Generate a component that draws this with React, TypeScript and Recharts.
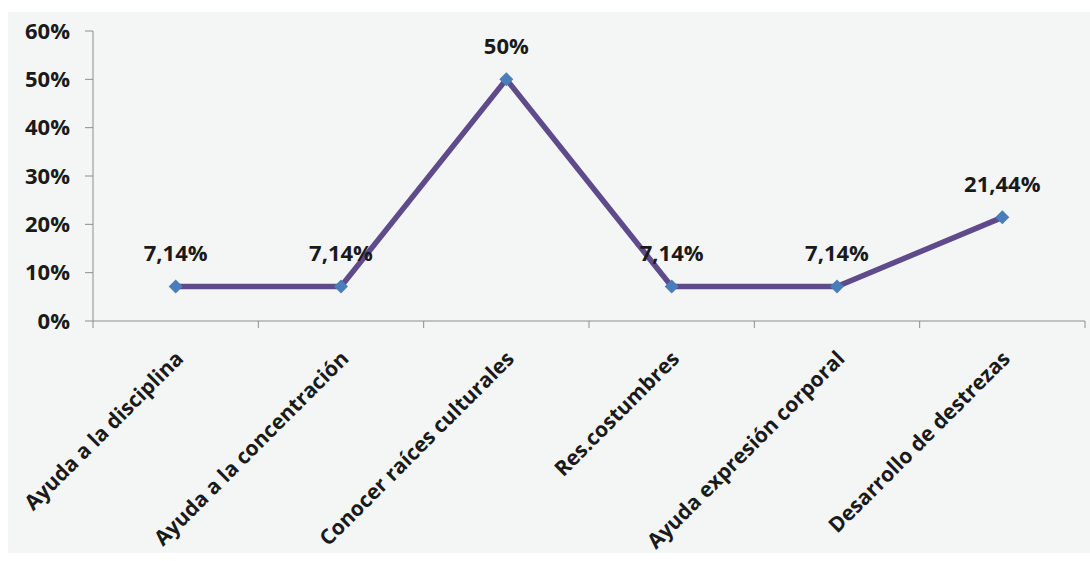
import { LineChart, Line, XAxis, YAxis, LabelList } from "recharts";

const categories = [
  "Ayuda a la disciplina",
  "Ayuda a la concentración",
  "Conocer raíces culturales",
  "Res.costumbres",
  "Ayuda expresión corporal",
  "Desarrollo de destrezas",
];
const values = [7.14, 7.14, 50, 7.14, 7.14, 21.44];
const yTicks = [0, 10, 20, 30, 40, 50, 60];

const data = categories.map((name, i) => ({ pos: i + 0.5, name, value: values[i] }));
// integer ticks = category boundaries (tick marks), half ticks = category labels
const xTicks = [0, ...categories.flatMap((_, i) => [i + 0.5, i + 1])];

const FONT = "'Open Sans', 'Liberation Sans', sans-serif";
const AXIS = "#8c8c8c";
const TEXT = "#1a1a1a";

const fmt = (v: number) => `${String(v).replace(".", ",")}%`;

const XTick = ({ x, y, payload }: any) => {
  const v = payload.value;
  if (Number.isInteger(v)) {
    return <line x1={x} y1={y} x2={x} y2={y + 7} stroke={AXIS} strokeWidth={1} />;
  }
  const label = categories[Math.floor(v)];
  const ax = x + 9;
  const ay = y + 39;
  return (
    <text
      x={ax}
      y={ay}
      transform={`rotate(-45, ${ax}, ${ay})`}
      textAnchor="end"
      fontFamily={FONT}
      fontWeight="bold"
      fontSize={21}
      fill={TEXT}
    >
      {label}
    </text>
  );
};

const Diamond = ({ cx, cy, index }: any) => (
  <polygon
    key={`d-${index}`}
    points={`${cx},${cy - 7} ${cx + 7},${cy} ${cx},${cy + 7} ${cx - 7},${cy}`}
    fill="#4a7ebb"
  />
);

export default function App() {
  return (
    <div style={{ position: "absolute", left: 0, top: 0, width: 1090, height: 561, background: "#fff" }}>
      <div style={{ position: "absolute", left: 8, top: 12, width: 1082, height: 541, background: "#f4f6f6" }} />
      <div style={{ position: "absolute", left: 8, top: 12 }}>
        <LineChart
          width={1082}
          height={549}
          data={data}
          margin={{ top: 19, right: 5, left: 0, bottom: 0 }}
        >
          <XAxis
            dataKey="pos"
            type="number"
            domain={[0, 6]}
            ticks={xTicks}
            interval={0}
            tickLine={false}
            tickSize={0}
            tickMargin={0}
            height={240}
            stroke={AXIS}
            tick={<XTick />}
          />
          <YAxis
            type="number"
            domain={[0, 60]}
            ticks={yTicks}
            interval={0}
            width={85}
            tickSize={8}
            tickMargin={15}
            stroke={AXIS}
            tickFormatter={(v: number) => `${v}%`}
            tick={{ fontFamily: FONT, fontWeight: "bold", fontSize: 22, fill: TEXT }}
          />
          <Line
            dataKey="value"
            type="linear"
            stroke="#5f4b8b"
            strokeWidth={5.5}
            dot={<Diamond />}
            activeDot={false}
            isAnimationActive={false}
          >
            <LabelList
              dataKey="value"
              position="top"
              offset={25}
              formatter={(v: any) => fmt(Number(v))}
              style={{ fontFamily: FONT, fontWeight: "bold", fontSize: 22, fill: TEXT }}
            />
          </Line>
        </LineChart>
      </div>
    </div>
  );
}
